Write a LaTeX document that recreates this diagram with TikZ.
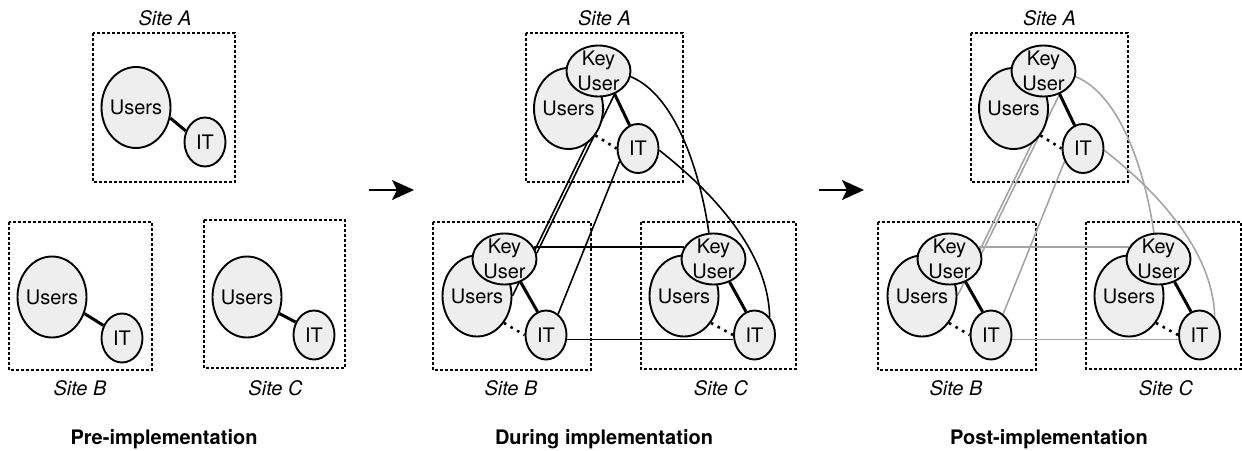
\documentclass[tikz,border=0pt]{standalone}
\usepackage{fontspec}
\setmainfont{TeX Gyre Heros}
\usetikzlibrary{shapes.geometric,arrows.meta,calc}
\pgfdeclarelayer{bg}
\pgfsetlayers{bg,main}
\definecolor{fillg}{RGB}{238,238,238}
\definecolor{lgray}{RGB}{165,165,165}
\begin{document}
\begin{tikzpicture}[x=1pt,y=-1pt,
  font=\fontsize{20}{24.5}\selectfont,
  sitebox/.style={draw, line width=2.6pt, dash pattern=on 2.6pt off 2.4pt},
  usr/.style={ellipse, draw=black, line width=1.9pt, fill=fillg, minimum width=69pt, minimum height=81pt, inner sep=0pt, label={[inner sep=0pt]center:Users}},
  itn/.style={ellipse, draw=black, line width=1.9pt, fill=fillg, minimum width=41pt, minimum height=49pt, inner sep=0pt, label={[inner sep=0pt]center:IT}},
  ku/.style={ellipse, draw=black, line width=1.9pt, fill=fillg, minimum width=64pt, minimum height=51pt, inner sep=0pt, label={[inner sep=0pt, align=center]center:Key\\User}},
  thickl/.style={draw=black, line width=3pt},
  dotl/.style={draw=black, line width=2.6pt, dash pattern=on 2.6pt off 5pt},
  sitelbl/.style={font=\fontsize{20}{24}\selectfont\itshape, anchor=base, inner sep=0pt},
  phaselbl/.style={font=\fontsize{20}{24}\selectfont\bfseries, anchor=base, inner sep=0pt},
  bigarrow/.style={draw=black, line width=2pt, -{Stealth[length=22pt,width=20pt,inset=5pt]}}
]
\useasboundingbox (0,0) rectangle (1242,450);

% ---------- Panel 1: Pre-implementation ----------
\begin{pgfonlayer}{bg}
\draw[sitebox] (93,33) rectangle (235,182);
\draw[sitebox] (9,222) rectangle (152,370);
\draw[sitebox] (204,220) rectangle (345,368);
\end{pgfonlayer}
\node[usr] (pUA) at (136,107.5) {};
\node[itn] (pIA) at (205,142) {};
\node[usr] (pUB) at (52,297) {};
\node[itn] (pIB) at (122,338) {};
\node[usr] (pUC) at (247,297) {};
\node[itn] (pIC) at (314,335) {};
\begin{pgfonlayer}{bg}
\draw[thickl] (pUA.-17) -- (pIA.150);
\draw[thickl] (pUB.-27) -- (pIB.146);
\draw[thickl] (pUC.-27) -- (pIC.145);
\end{pgfonlayer}
\node[sitelbl] (pSA) at (165,25) {Site A};
\node[sitelbl] (pSB) at (80,395) {Site B};
\node[sitelbl] (pSC) at (275.5,395) {Site C};
\node[phaselbl] (pPh) at (164,444) {Pre-implementation};

% ---------- Arrows ----------
\coordinate (a1s) at (369,190);
\coordinate (a1e) at (414,190);
\coordinate (a2s) at (819,190);
\coordinate (a2e) at (864,190);
\draw[bigarrow] (a1s) -- (a1e);
\draw[bigarrow] (a2s) -- (a2e);

% ---------- Panels 2 and 3 ----------
\foreach \p/\dx/\lc/\ph in {b/0/black/During implementation, c/445/lgray/Post-implementation}{
\begin{scope}[shift={(\dx,0)}]
\begin{pgfonlayer}{bg}
\draw[sitebox] (526,33) rectangle (683,182);
\draw[sitebox] (433,222) rectangle (591,370);
\draw[sitebox] (641,222) rectangle (796,369);
\end{pgfonlayer}
\node[usr] (\p UA) at (568.5,108.5) {};
\node[ku] (\p KA) at (598.5,71) {};
\node[itn] (\p IA) at (638,148.5) {};
\node[usr] (\p UB) at (477,296) {};
\node[ku] (\p KB) at (504.5,259) {};
\node[itn] (\p IB) at (546,335) {};
\node[usr] (\p UC) at (684,296) {};
\node[ku] (\p KC) at (713.5,259) {};
\node[itn] (\p IC) at (754.5,335) {};
\begin{pgfonlayer}{bg}
\draw[draw=\lc, line width=1.6pt] (\p UA.east) -- (\p UB.east);
\draw[draw=\lc, line width=1.6pt] (\p KA.-55) -- (\p KB.10);
\draw[draw=\lc, line width=1.6pt] (\p IA.-145) -- (\p IB.60);
\draw[draw=\lc, line width=1.6pt] (\p KB.22) -- (\p KC.158);
\draw[draw=\lc, line width=1.6pt] (\p IB.-12) -- (\p IC.192);
\draw[draw=\lc, line width=1.6pt] (\p KA.-10) .. controls +(44,18) and +(-9,-63) .. (\p KC.100);
\draw[draw=\lc, line width=1.6pt] (\p IA.-5) .. controls +(51,40) and +(-1.5,-67) .. (\p IC.50);
\draw[thickl] (\p KA.-55) -- (\p IA.110);
\draw[thickl] (\p KB.-55) -- (\p IB.110);
\draw[thickl] (\p KC.-55) -- (\p IC.110);
\draw[dotl] (\p UA.-45) -- (\p IA.west);
\draw[dotl] (\p UB.-45) -- (\p IB.west);
\draw[dotl] (\p UC.-45) -- (\p IC.west);
\end{pgfonlayer}
\node[sitelbl] (\p SA) at (604.5,25) {Site A};
\node[sitelbl] (\p SB) at (511,395) {Site B};
\node[sitelbl] (\p SC) at (721,395) {Site C};
\node[phaselbl] (\p Ph) at (604,444) {\ph};
\end{scope}
}
\end{tikzpicture}
\end{document}
